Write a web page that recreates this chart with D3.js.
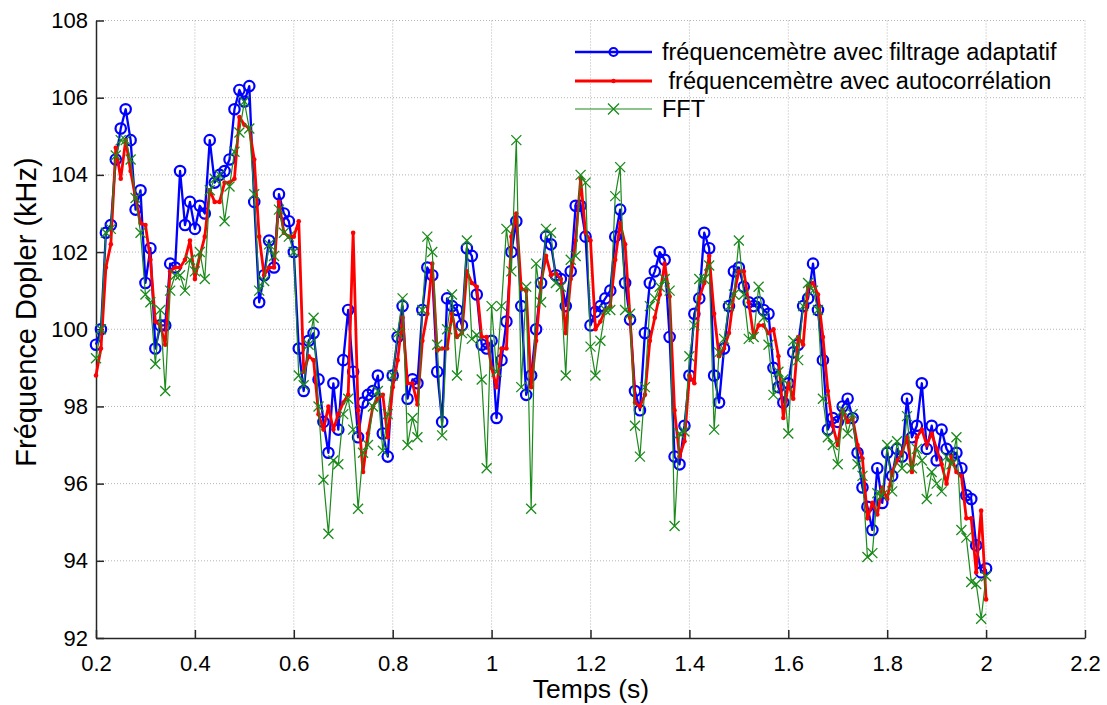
<!DOCTYPE html>
<html>
<head>
<meta charset="utf-8">
<script src="https://cdn.jsdelivr.net/npm/d3@7"></script>
<style>
  html, body { margin: 0; padding: 0; background: #fff; }
  svg { display: block; font-family: Arial, "Liberation Sans", sans-serif; }
</style>
</head>
<body>
<svg id="chart" width="1107" height="705"></svg>
<script>
// ---- data (time in s, Doppler frequency in kHz) ----
const times = [
0.20,0.21,0.22,0.23,0.24,0.25,0.26,0.27,0.28,0.29,
0.30,0.31,0.32,0.33,0.34,0.35,0.36,0.37,0.38,0.39,
0.40,0.41,0.42,0.43,0.44,0.45,0.46,0.47,0.48,0.49,
0.50,0.51,0.52,0.53,0.54,0.55,0.56,0.57,0.58,0.59,
0.60,0.61,0.62,0.63,0.64,0.65,0.66,0.67,0.68,0.69,
0.70,0.71,0.72,0.73,0.74,0.75,0.76,0.77,0.78,0.79,
0.80,0.81,0.82,0.83,0.84,0.85,0.86,0.87,0.88,0.89,
0.90,0.91,0.92,0.93,0.94,0.95,0.96,0.97,0.98,0.99,
1.00,1.01,1.02,1.03,1.04,1.05,1.06,1.07,1.08,1.09,
1.10,1.11,1.12,1.13,1.14,1.15,1.16,1.17,1.18,1.19,
1.20,1.21,1.22,1.23,1.24,1.25,1.26,1.27,1.28,1.29,
1.30,1.31,1.32,1.33,1.34,1.35,1.36,1.37,1.38,1.39,
1.40,1.41,1.42,1.43,1.44,1.45,1.46,1.47,1.48,1.49,
1.50,1.51,1.52,1.53,1.54,1.55,1.56,1.57,1.58,1.59,
1.60,1.61,1.62,1.63,1.64,1.65,1.66,1.67,1.68,1.69,
1.70,1.71,1.72,1.73,1.74,1.75,1.76,1.77,1.78,1.79,
1.80,1.81,1.82,1.83,1.84,1.85,1.86,1.87,1.88,1.89,
1.90,1.91,1.92,1.93,1.94,1.95,1.96,1.97,1.98,1.99,
2.00];

const adaptatif = [
99.6,100.0,102.5,102.7,104.4,105.2,105.7,104.9,103.1,103.6,
101.2,102.1,99.5,100.1,100.1,101.7,101.6,104.1,102.7,103.3,
102.6,103.2,103.0,104.9,103.8,104.0,104.1,104.4,105.7,106.2,
105.9,106.3,103.3,100.7,101.4,102.3,101.6,103.5,103.0,102.8,
102.0,99.5,98.4,99.7,99.9,98.7,97.6,96.8,98.6,97.4,
99.2,100.5,98.9,97.2,98.1,98.3,98.4,98.8,97.3,96.7,
98.8,99.8,100.6,98.2,98.7,98.6,100.5,101.6,101.4,98.9,
97.6,100.8,100.6,100.5,100.1,102.1,101.9,100.9,99.6,99.5,
99.7,97.7,99.2,100.2,102.0,102.8,100.6,98.3,98.8,100.0,
101.2,102.4,102.2,101.4,101.3,100.6,101.5,103.2,103.2,102.4,
100.1,100.45,100.6,100.8,101.0,102.4,103.1,101.2,100.25,98.4,
97.9,99.9,101.2,101.5,102.0,101.8,99.8,96.7,96.5,97.5,
98.8,100.4,100.8,102.5,102.1,98.8,98.1,99.5,100.6,101.5,
101.6,101.1,100.7,100.6,100.7,100.5,100.4,99.0,98.5,98.1,
98.6,99.4,99.6,100.6,100.8,101.7,100.5,99.2,97.4,97.7,
97.6,98.0,98.2,97.7,96.8,95.9,95.4,94.8,96.4,95.5,
96.8,96.2,96.9,96.7,98.2,97.2,97.5,98.6,96.9,97.5,
96.6,97.4,96.9,96.7,96.8,96.4,95.7,95.6,94.4,93.7,
93.8];

const autocorrelation = [
98.8,99.5,101.6,102.2,104.7,103.9,104.9,104.1,103.4,102.75,
102.7,101.8,100.2,100.1,99.6,101.5,101.6,101.6,101.8,102.3,
101.3,101.9,102.4,103.6,103.3,103.3,103.8,103.8,103.9,105.5,
105.3,105.2,104.4,102.4,101.4,101.6,101.6,103.3,102.5,102.4,
102.4,102.8,98.9,99.3,99.2,97.8,97.4,98.0,97.4,97.8,
98.1,98.3,102.5,97.9,96.3,97.3,98.0,98.2,98.3,97.2,
98.5,99.2,100.3,98.6,98.6,98.05,99.7,100.4,101.7,99.45,
99.5,99.5,100.4,99.8,99.9,101.5,101.2,101.1,99.8,99.8,
99.0,98.5,99.5,99.5,102.4,103.0,101.05,101.0,98.5,99.7,
101.2,101.9,101.4,101.45,101.3,99.9,101.3,102.3,103.9,102.5,
102.3,100.0,100.2,100.5,100.6,101.8,102.75,102.2,100.3,98.1,
98.0,98.3,99.7,100.3,100.9,101.7,100.85,97.9,96.7,97.1,
98.8,98.6,100.8,101.2,101.9,100.4,99.3,99.5,99.9,100.9,
101.5,101.5,100.7,99.8,100.1,100.1,99.9,100.0,99.3,97.7,
98.6,98.2,99.8,99.6,101.1,101.2,100.9,99.8,98.4,97.5,
97.0,97.9,97.6,97.7,97.0,96.65,95.1,95.5,95.2,95.9,
95.6,96.3,96.6,96.8,97.2,96.3,97.2,97.4,97.0,97.3,
96.9,96.5,96.0,96.7,96.3,96.2,95.1,95.1,93.7,95.3,
93.0];

const fft = [
99.25,100.0,102.5,102.6,104.5,104.9,104.9,104.4,103.4,102.5,
100.9,100.7,99.1,100.5,98.4,101.0,101.4,101.4,101.0,101.8,
101.5,102.0,101.3,103.6,103.9,104.0,102.8,103.7,104.6,105.1,
105.9,105.2,103.5,101.0,101.25,102.2,101.9,103.1,102.5,102.4,
102.0,98.8,98.55,99.6,100.3,98.0,96.1,94.7,96.6,96.5,
97.8,98.2,97.4,95.35,96.8,97.0,98.0,98.4,96.85,97.8,
98.8,99.9,100.8,97.0,97.7,97.2,100.5,102.4,102.0,99.6,
97.25,100.0,100.9,98.8,99.9,102.3,99.75,99.85,98.7,96.4,
100.6,98.9,100.6,102.6,101.5,104.9,98.5,101.1,95.35,101.7,
100.7,102.6,102.5,101.2,101.1,98.8,101.8,101.9,104.0,103.8,
99.55,98.8,99.7,100.5,100.5,103.45,104.2,100.5,100.4,97.5,
96.7,98.5,100.6,100.8,101.1,101.3,101.0,94.9,97.3,97.35,
99.3,100.1,101.3,101.3,101.65,97.4,99.4,99.75,100.6,100.9,
102.3,100.9,99.75,99.8,101.1,100.3,99.6,98.3,98.9,98.7,
97.3,99.7,99.2,100.6,101.2,101.0,100.5,98.2,97.2,97.0,
96.5,97.9,97.3,97.8,96.5,96.2,94.1,94.2,95.75,95.7,
97.0,95.8,97.1,96.4,97.75,96.4,96.9,96.6,95.6,96.3,
96.0,95.8,96.7,96.5,97.2,94.8,94.6,93.45,93.4,92.5,
93.6];

const xTicks = [0.2, 0.4, 0.6, 0.8, 1, 1.2, 1.4, 1.6, 1.8, 2, 2.2];
const yTicks = [92, 94, 96, 98, 100, 102, 104, 106, 108];
const seriesNames = [
  "fréquencemètre avec filtrage adaptatif",
  " fréquencemètre avec autocorrélation",
  "FFT"
];

// ---- layout ----
const svg = d3.select("#chart");
const m = { left: 96, right: 1085, top: 20.5, bottom: 638 };
const x = d3.scaleLinear().domain([0.2, 2.2]).range([m.left, m.right]);
const y = d3.scaleLinear().domain([92, 108]).range([m.bottom, m.top]);

// grid
const grid = svg.append("g").attr("stroke", "#b4b4b4").attr("stroke-width", 1)
  .attr("stroke-dasharray", "1,2").attr("fill", "none");
xTicks.slice(1).forEach(t => grid.append("line")
  .attr("x1", x(t)).attr("x2", x(t)).attr("y1", m.top).attr("y2", m.bottom));
yTicks.slice(1).forEach(t => grid.append("line")
  .attr("x1", m.left).attr("x2", m.right).attr("y1", y(t)).attr("y2", y(t)));

// axes
const fmt = d => String(d);
const xAxis = svg.append("g").attr("transform", `translate(0,${m.bottom})`)
  .call(d3.axisBottom(x).tickValues(xTicks).tickFormat(fmt).tickSizeInner(-8).tickSizeOuter(0).tickPadding(17));
const yAxis = svg.append("g").attr("transform", `translate(${m.left},0)`)
  .call(d3.axisLeft(y).tickValues(yTicks).tickFormat(fmt).tickSizeInner(-8).tickSizeOuter(0).tickPadding(8));
[xAxis, yAxis].forEach(a => {
  a.select(".domain").attr("stroke", "#262626").attr("stroke-width", 1.5);
  a.selectAll(".tick line").attr("stroke", "#262626").attr("stroke-width", 1.5);
  a.selectAll(".tick text").attr("fill", "#000").style("font-size", "22px")
    .style("font-family", "Arial, 'Liberation Sans', sans-serif");
});

// axis titles
svg.append("text").attr("x", 591).attr("y", 698).attr("text-anchor", "middle")
  .style("font-size", "26.5px").text("Temps (s)");
svg.append("text").attr("transform", "translate(36,312) rotate(-90)")
  .attr("text-anchor", "middle").style("font-size", "29px").text("Fréquence Dopler (kHz)");

// series
const plot = svg.append("g");
const line = d3.line().x((d, i) => x(times[i])).y(d => y(d));

function crossPath(cx, cy, s) {
  return `M${cx - s},${cy - s}L${cx + s},${cy + s}M${cx - s},${cy + s}L${cx + s},${cy - s}`;
}

const BLUE = "#0000ff", RED = "#ff0000", GREEN = "#1a8a1a";

// blue
plot.append("path").datum(adaptatif).attr("d", line).attr("fill", "none")
  .attr("stroke", BLUE).attr("stroke-width", 2.3).attr("stroke-linejoin", "round");
plot.append("g").selectAll("circle").data(adaptatif).join("circle")
  .attr("cx", (d, i) => x(times[i])).attr("cy", d => y(d)).attr("r", 5.2)
  .attr("fill", "none").attr("stroke", BLUE).attr("stroke-width", 2.2);

// red
plot.append("path").datum(autocorrelation).attr("d", line).attr("fill", "none")
  .attr("stroke", RED).attr("stroke-width", 2.8).attr("stroke-linejoin", "round");
plot.append("g").selectAll("circle").data(autocorrelation).join("circle")
  .attr("cx", (d, i) => x(times[i])).attr("cy", d => y(d)).attr("r", 2.3)
  .attr("fill", RED);

// green
plot.append("path").datum(fft).attr("d", line).attr("fill", "none")
  .attr("stroke", GREEN).attr("stroke-width", 1.2).attr("stroke-linejoin", "round");
plot.append("g").selectAll("path").data(fft).join("path")
  .attr("d", (d, i) => crossPath(x(times[i]), y(d), 5))
  .attr("fill", "none").attr("stroke", GREEN).attr("stroke-width", 1.3);

// legend
const lg = svg.append("g");
const rows = [52, 81, 109];
const lx1 = 575, lx2 = 652, lxm = 613.5, tx = 662;
lg.append("line").attr("x1", lx1).attr("x2", lx2).attr("y1", rows[0]).attr("y2", rows[0])
  .attr("stroke", BLUE).attr("stroke-width", 2.3);
lg.append("circle").attr("cx", lxm).attr("cy", rows[0]).attr("r", 4)
  .attr("fill", "none").attr("stroke", BLUE).attr("stroke-width", 2.2);
lg.append("line").attr("x1", lx1).attr("x2", lx2).attr("y1", rows[1]).attr("y2", rows[1])
  .attr("stroke", RED).attr("stroke-width", 2.8);
lg.append("circle").attr("cx", lxm).attr("cy", rows[1]).attr("r", 2.2).attr("fill", RED);
lg.append("line").attr("x1", lx1).attr("x2", lx2).attr("y1", rows[2]).attr("y2", rows[2])
  .attr("stroke", GREEN).attr("stroke-width", 1.2);
lg.append("path").attr("d", crossPath(lxm, rows[2], 5.5))
  .attr("fill", "none").attr("stroke", GREEN).attr("stroke-width", 1.3);
seriesNames.forEach((s, i) => {
  lg.append("text").attr("x", tx).attr("y", rows[i]).attr("dy", "0.35em")
    .style("font-size", "23.5px").style("white-space", "pre").attr("xml:space", "preserve").text(s);
});
</script>
</body>
</html>
